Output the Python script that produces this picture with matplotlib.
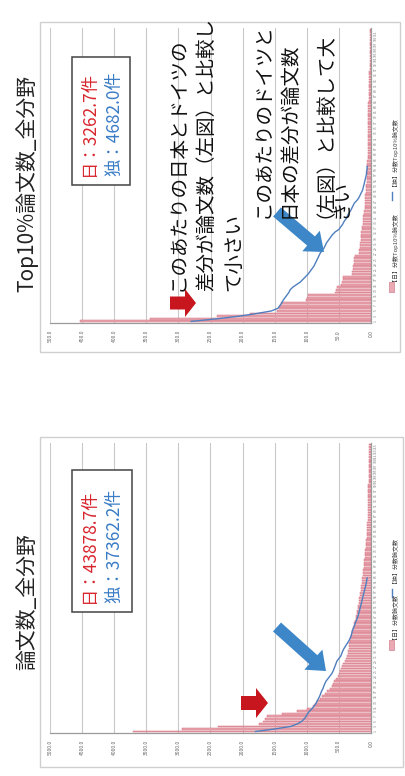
import numpy as np
import matplotlib
matplotlib.use("Agg")
import matplotlib.pyplot as plt
from matplotlib.patches import Rectangle, FancyArrow

plt.rcParams['font.family'] = ['Noto Sans CJK JP', 'DejaVu Sans']

# ---- Top10% paper counts by institution (sorted, fractional counting) ----
jp_top10 = [453, 344, 240, 188, 146, 143, 142, 140, 102, 100, 98, 56, 54, 53, 46, 45,
            44, 43, 30, 29, 28, 28, 27, 27, 26, 25, 18, 18, 17, 17, 17, 16, 16, 15, 15,
            14, 14, 13, 13, 12, 12, 11, 11, 10, 10, 10, 9, 9, 9, 8, 8, 8, 8, 7, 7, 7, 7,
            6, 6, 6, 6, 6, 5, 5, 5, 5, 5, 5, 5, 5, 5, 5, 4, 4, 4, 4, 4, 4, 4, 4, 4, 4,
            4, 4, 3, 3, 3, 3, 3, 3, 3, 3, 3, 3, 3, 3, 2, 2, 2, 2, 2, 2, 2, 2, 1, 1, 1, 1,
            1, 1, 1, 1]
de_top10 = [280, 240, 205, 178, 155, 145, 142, 139, 137, 134, 131, 128, 126, 122, 116,
            110, 106, 102, 98, 95, 92, 89, 87, 85, 83, 81, 79, 76, 73, 71, 69, 66, 63, 60,
            56, 50, 47, 44, 42, 39, 37, 35, 32, 30, 28, 26, 22, 19, 17, 15, 13, 12, 11, 10,
            9, 8, 7, 7, 6, 6]

# ---- total paper counts by institution (sorted, fractional counting) ----
jp_all = [3707, 2944, 2383, 1740, 1680, 1650, 1620, 1380, 1160, 1000, 910, 880, 840, 800,
          760, 720, 680, 640, 610, 590, 570, 550, 520, 500, 485, 470, 450, 430, 410, 390,
          375, 365, 355, 345, 340, 335, 330, 325, 310, 300, 290, 280, 270, 260, 250, 240,
          232, 224, 216, 208, 200, 193, 186, 180, 174, 168, 162, 156, 150, 145, 140, 135,
          130, 125, 120, 115, 110, 106, 102, 98, 94, 90, 86, 82, 78, 75, 72, 69, 61, 60,
          58, 57, 56, 55, 53, 52, 51, 50, 49, 48, 47, 46, 45, 44, 43, 42, 41, 40, 39, 38,
          37, 36, 35, 35, 34, 34, 33, 33, 32, 32, 31, 31, 30, 30, 29]
de_all = [1800, 1500, 1250, 1150, 1080, 1040, 1010, 990, 960, 920, 890, 860, 840, 820, 800,
          785, 770, 750, 735, 720, 700, 670, 640, 610, 590, 575, 560, 545, 530, 500, 470,
          455, 440, 420, 395, 370, 345, 325, 310, 300, 290, 275, 260, 245, 230, 215, 200,
          190, 180, 170, 160, 150, 140, 130, 122, 112, 102, 92, 82, 74, 66, 60]

titles = ["Top10%論文数_全分野", "論文数_全分野"]
totals_jp = ["日：3262.7件", "日：43878.7件"]
totals_de = ["独：4682.0件", "独：37362.2件"]
legend_jp = ["【日】分数Top10%論文数", "【日】分数論文数"]
legend_de = ["【独】分数Top10%論文数", "【独】分数論文数"]
note_small = ["このあたりの日本とドイツの", "差分が論文数（左図）と比較し", "て小さい"]
note_large = ["このあたりのドイツと", "日本の差分が論文数", "（左図）と比較して大", "きい"]

W, H = 405, 776
BAR_FACE = '#e9aab3'
BAR_EDGE = '#d46b7d'
LINE_C = '#4f7fbf'
RED = '#d9262e'
BLUE = '#3a7cc5'
ARROW_RED = '#c8161f'
ARROW_BLUE = '#3d86c8'

fig = plt.figure(figsize=(W / 100, H / 100), dpi=100)
fig.patch.set_facecolor('white')


def px_rect(x0, y0, x1, y1):
    return [x0 / W, 1 - y1 / H, (x1 - x0) / W, (y1 - y0) / H]


def draw_chart(rect, jp, de, xmax, step):
    ax = fig.add_axes(rect)
    n = len(jp)
    idx = np.arange(n)
    ax.barh(idx, jp, height=0.72, color=BAR_FACE, edgecolor=BAR_EDGE,
            linewidth=0.35, zorder=2)
    ax.plot(de, np.arange(len(de)), color=LINE_C, lw=1.0, zorder=3)
    ax.set_xlim(xmax, 0)
    ax.set_ylim(-0.6, n - 0.4)
    ticks = np.arange(0, xmax + 1, step)
    ax.set_xticks(ticks)
    ax.set_xticklabels([f"{t:.1f}" for t in ticks], rotation=90,
                       fontsize=3.6, color='#666666')
    ax.tick_params(axis='x', length=0, pad=5)
    ax.grid(axis='x', color='#c9c9c9', lw=0.8, zorder=0)
    ax.yaxis.tick_right()
    ax.set_yticks(idx[::2])
    ax.set_yticklabels([str(i + 1) for i in idx[::2]], rotation=90,
                       fontsize=2.4, color='#777777')
    ax.tick_params(axis='y', length=0, pad=2)
    for s in ('top', 'left'):
        ax.spines[s].set_visible(False)
    for s in ('bottom', 'right'):
        ax.spines[s].set_color('#9a9a9a')
        ax.spines[s].set_linewidth(0.9)
    ax.set_facecolor('white')
    return ax


draw_chart(px_rect(50, 28, 371, 323), jp_top10, de_top10, 500, 50)
draw_chart(px_rect(50, 443, 371, 733), jp_all, de_all, 5000, 500)

# overlay in pixel coordinates for frames, notes and arrows
ov = fig.add_axes([0, 0, 1, 1], zorder=10)
ov.set_xlim(0, W)
ov.set_ylim(H, 0)
ov.axis('off')
ov.patch.set_alpha(0)

# outer chart frames
for (x0, y0, x1, y1) in [(40, 22, 400, 352), (40, 437, 403, 767)]:
    ov.add_patch(Rectangle((x0, y0), x1 - x0, y1 - y0, fill=False,
                           edgecolor='#cfcfcf', lw=1.0))

# titles
ov.text(27, 183, titles[0], rotation=90, ha='center', va='center',
        fontsize=15, color='#222222')
ov.text(27, 602, titles[1], rotation=90, ha='center', va='center',
        fontsize=15, color='#222222')

# totals boxes
for (x0, y0, x1, y1), tj, td in [((72, 57, 130, 185), totals_jp[0], totals_de[0]),
                                 ((72, 470, 132, 612), totals_jp[1], totals_de[1])]:
    ov.add_patch(Rectangle((x0, y0), x1 - x0, y1 - y0, facecolor='white',
                           edgecolor='#444444', lw=1.1))
    ov.text(89, y1 - 9, tj, rotation=90, ha='center', va='bottom',
            fontsize=12.5, color=RED)
    ov.text(114, y1 - 9, td, rotation=90, ha='center', va='bottom',
            fontsize=12.5, color=BLUE)


def column(xc, y0, s):
    # vertical column of text; baseline sits ~0.38em to the right of glyph centres
    ov.text(xc + 7, y0, s, rotation=90, rotation_mode='anchor', ha='left',
            va='baseline', fontsize=14, color='#111111')


for xc, line in zip([177, 205, 232], note_small):
    column(xc, 291, line)
for xc, line in zip([262, 288, 313, 340], note_large):
    column(xc, 218, line)

# arrows
ov.add_patch(FancyArrow(170, 303, 26, 0, width=13, head_width=28, head_length=11,
                        length_includes_head=True, color=ARROW_RED, lw=0))
ov.add_patch(FancyArrow(241, 703, 27, 0, width=14, head_width=30, head_length=12,
                        length_includes_head=True, color=ARROW_RED, lw=0))
ov.add_patch(FancyArrow(277, 212, 47, 40, width=12, head_width=27, head_length=17,
                        length_includes_head=True, color=ARROW_BLUE, lw=0))
ov.add_patch(FancyArrow(277, 627, 49, 44, width=12, head_width=27, head_length=17,
                        length_includes_head=True, color=ARROW_BLUE, lw=0))

# legends
for (ysq, yj, yl, yd), lj, ld in [((287, 281, 200, 194), legend_jp[0], legend_de[0]),
                                   ((645, 639, 597, 591), legend_jp[1], legend_de[1])]:
    ov.add_patch(Rectangle((389, ysq - 5), 5, 10, facecolor=BAR_FACE,
                           edgecolor='#c76a7a', lw=0.4))
    ov.text(391.5, yj, lj, rotation=90, ha='center', va='bottom',
            fontsize=4.3, color='#444444')
    ov.plot([391.5, 391.5], [yl, yl - 8], color=LINE_C, lw=1.0)
    ov.text(391.5, yd - 8, ld, rotation=90, ha='center', va='bottom',
            fontsize=4.3, color='#444444')

fig.savefig('out.png', dpi=100, facecolor='white')
